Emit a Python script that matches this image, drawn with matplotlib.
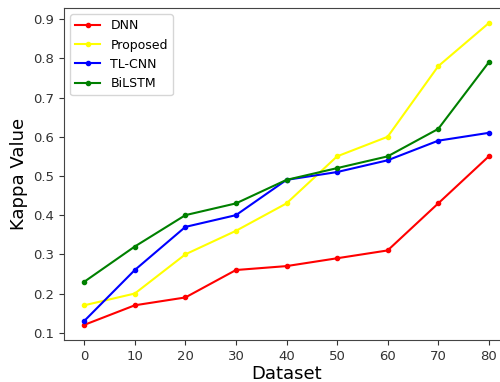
import matplotlib
matplotlib.use('Agg')
import matplotlib.pyplot as plt

# values
datasets = [0, 10, 20, 30, 40, 50, 60, 70, 80]
dnn = [0.12, 0.17, 0.19, 0.26, 0.27, 0.29, 0.31, 0.43, 0.55]
proposed = [0.17, 0.20, 0.30, 0.36, 0.43, 0.55, 0.60, 0.78, 0.89]
tl_cnn = [0.13, 0.26, 0.37, 0.40, 0.49, 0.51, 0.54, 0.59, 0.61]
bilstm = [0.23, 0.32, 0.40, 0.43, 0.49, 0.52, 0.55, 0.62, 0.79]

fig = plt.figure(figsize=(5, 3.82), dpi=100)
# right edge of the axes runs past the image, as in the reference
ax = fig.add_axes([0.128, 0.110, 0.89, 0.869])

ax.plot(datasets, dnn, color='red', marker='.', markersize=6, lw=1.5, label='DNN')
ax.plot(datasets, proposed, color='yellow', marker='.', markersize=6, lw=1.5, label='Proposed')
ax.plot(datasets, tl_cnn, color='blue', marker='.', markersize=6, lw=1.5, label='TL-CNN')
ax.plot(datasets, bilstm, color='green', marker='.', markersize=6, lw=1.5, label='BiLSTM')

ax.set_xticks(datasets)
ax.set_xlabel('Dataset', fontsize=13, labelpad=2)
ax.set_ylabel('Kappa Value', fontsize=13)
ax.tick_params(labelsize=9.5, colors='#333333')
for s in ax.spines.values():
    s.set_color('#444444')

ax.legend(loc='upper left', fontsize=9)

fig.savefig('out.png', dpi=100)
